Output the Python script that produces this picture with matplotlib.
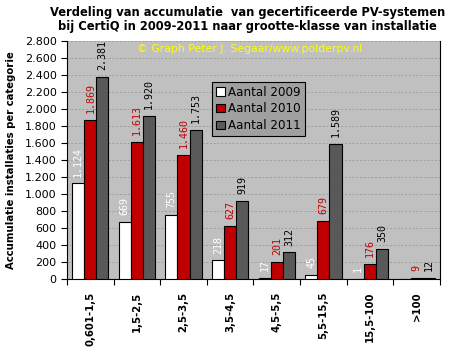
import matplotlib
matplotlib.use("Agg")
import matplotlib.pyplot as plt
import numpy as np
from matplotlib.ticker import FuncFormatter, MultipleLocator

categories = ["0,601-1,5", "1,5-2,5", "2,5-3,5", "3,5-4,5", "4,5-5,5",
              "5,5-15,5", "15,5-100", ">100"]
aantal_2009 = [1124, 669, 755, 218, 17, 45, 1, 0]
aantal_2010 = [1869, 1613, 1460, 627, 201, 679, 176, 9]
aantal_2011 = [2381, 1920, 1753, 919, 312, 1589, 350, 12]
series_names = ["Aantal 2009", "Aantal 2010", "Aantal 2011"]

colors = ["#ffffff", "#c00000", "#595959"]
label_colors = ["#ffffff", "#c00000", "#000000"]

fig = plt.figure(figsize=(4.61, 3.51), dpi=100)
ax = fig.add_axes([0.1453, 0.2051, 0.8091, 0.6779])
ax.set_facecolor("#c0c0c0")

x = np.arange(len(categories))
w = 0.26
handles = []
for i, vals in enumerate([aantal_2009, aantal_2010, aantal_2011]):
    pos = x + (i - 1) * w
    b = ax.bar(pos, vals, w, color=colors[i], edgecolor="black", linewidth=0.8,
               label=series_names[i], zorder=3)
    handles.append(b)
    for p, v in zip(pos, vals):
        if v == 0:
            continue
        s = f"{v:,}".replace(",", ".")
        ax.annotate(s, (p, v), xytext=(0, 5), textcoords="offset points",
                    rotation=90, ha="center", va="bottom", fontsize=7.2,
                    family="DejaVu Sans Mono", color=label_colors[i], zorder=4)

ax.set_xlim(-0.5, len(categories) - 0.5)
ax.set_ylim(0, 2800)
ax.yaxis.set_major_locator(MultipleLocator(200))
ax.yaxis.set_major_formatter(FuncFormatter(lambda v, _: f"{int(v):,}".replace(",", ".")))
ax.grid(axis="y", color="#9a9a9a", linestyle=(0, (2.5, 2)), linewidth=0.6, zorder=0)
ax.set_xticks(np.arange(len(categories) + 1) - 0.5, minor=False)
ax.set_xticklabels([])
ax.set_xticks(x, minor=True)
ax.set_xticklabels(categories, minor=True, rotation=90, fontsize=7.3, fontweight="bold")
ax.tick_params(axis="x", which="minor", length=0, pad=9)
ax.tick_params(axis="x", which="major", length=4, direction="out")
ax.tick_params(axis="y", labelsize=8, length=4, direction="out")
ax.spines["top"].set_visible(False)
ax.spines["right"].set_linewidth(0.8)

ax.set_ylabel("Accumulatie installaties per categorie", fontsize=7.3, fontweight="bold",
              labelpad=6)

fig.suptitle("Verdeling van accumulatie  van gecertificeerde PV-systemen\n"
             "bij CertiQ in 2009-2011 naar grootte-klasse van installatie",
             fontsize=8.3, fontweight="bold", y=0.982, x=0.537, linespacing=1.05)

ax.text(0.188, 0.965, "\u00a9 Graph Peter J. Segaar/www.polderpv.nl", transform=ax.transAxes,
        color="#ffff00", fontsize=7.8, va="center", ha="left", zorder=5)

leg = ax.legend(handles=handles, loc="upper left", bbox_to_anchor=(0.389, 0.83),
                fontsize=8.6, frameon=True, fancybox=False, edgecolor="black",
                facecolor="#a0a0a0", framealpha=1, handlelength=0.7,
                handleheight=0.7, handletextpad=0.25, borderpad=0.35,
                labelspacing=0.3, borderaxespad=0)
leg.get_frame().set_linewidth(0.8)

fig.savefig("out.png", dpi=100)
